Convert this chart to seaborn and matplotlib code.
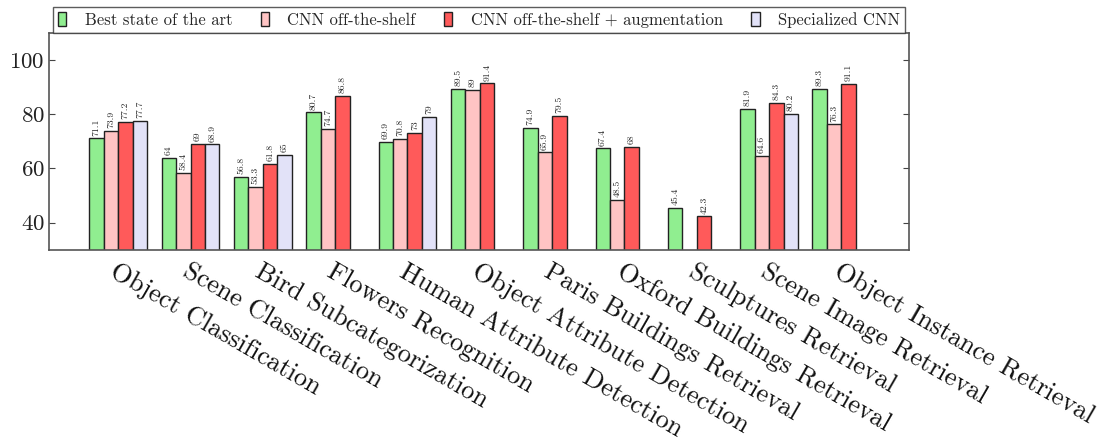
import numpy as np
import pandas as pd
import matplotlib
matplotlib.use("Agg")
import matplotlib.pyplot as plt
import seaborn as sns

tasks = ["Object Classification", "Scene Classification", "Bird Subcategorization",
         "Flowers Recognition", "Human Attribute Detection", "Object Attribute Detection",
         "Paris Buildings Retrieval", "Oxford Buildings Retrieval", "Sculptures Retrieval",
         "Scene Image Retrieval", "Object Instance Retrieval"]
methods = ["Best state of the art", "CNN off-the-shelf",
           "CNN off-the-shelf + augmentation", "Specialized CNN"]
best_sota = [71.1, 64, 56.8, 80.7, 69.9, 89.5, 74.9, 67.4, 45.4, 81.9, 89.3]
cnn_ots = [73.9, 58.4, 53.3, 74.7, 70.8, 89, 65.9, 48.5, np.nan, 64.6, 76.3]
cnn_aug = [77.2, 69, 61.8, 86.8, 73, 91.4, 79.5, 68, 42.3, 84.3, 91.1]
specialized = [77.7, 68.9, 65, np.nan, 79, np.nan, np.nan, np.nan, np.nan, 80.2, np.nan]
colors = ["#90ee90", "#ffc4c4", "#ff5a5a", "#e2e2f8"]

rows = []
for m, vals in zip(methods, [best_sota, cnn_ots, cnn_aug, specialized]):
    for t, v in zip(tasks, vals):
        rows.append({"task": t, "method": m, "value": v})
df = pd.DataFrame(rows)

sns.set_style("white")
plt.rcParams["font.family"] = ["serif"]
plt.rcParams["font.serif"] = ["cmr10", "DejaVu Serif"]
plt.rcParams["axes.formatter.use_mathtext"] = True

fig = plt.figure(figsize=(11.09, 4.46), dpi=100)
ax = fig.add_axes([0.044, 0.44, 0.776, 0.486])

sns.barplot(data=df, x="task", y="value", hue="method", order=tasks,
            hue_order=methods, palette=colors, width=0.8, saturation=1,
            edgecolor="#222222", linewidth=1.0, ax=ax, legend=True)

for cont in ax.containers:
    labels = ["" if np.isnan(v) else ("%g" % v) for v in cont.datavalues]
    ax.bar_label(cont, labels=labels, rotation=90, fontsize=7, padding=2)

ax.set_ylim(30, 110)
ax.set_xlim(-0.96, 10.94)
ax.set_yticks([40, 60, 80, 100])
ax.set_xlabel("")
ax.set_ylabel("")
ax.tick_params(axis="y", direction="in", right=True, left=True, length=4,
               labelsize=16.5, colors="#444444", labelcolor="#222222", pad=3)
ax.tick_params(axis="x", length=0, pad=7)
ax.set_xticks(range(len(tasks)))
ax.set_xticklabels(tasks, rotation=-30, ha="left", rotation_mode="anchor",
                   fontsize=19, color="#111111")
for s in ax.spines.values():
    s.set_color("#555555")
    s.set_linewidth(1.2)

leg = ax.legend(loc="lower left", bbox_to_anchor=(0.005, 1.0, 0.99, 0.1), ncol=4,
                mode="expand", frameon=True, fancybox=False, edgecolor="#333333",
                fontsize=12, handlelength=0.5, handleheight=0.9, borderaxespad=0,
                borderpad=0.3, handletextpad=1.1)
leg.get_frame().set_linewidth(1.0)

fig.savefig("out.png", dpi=100)
